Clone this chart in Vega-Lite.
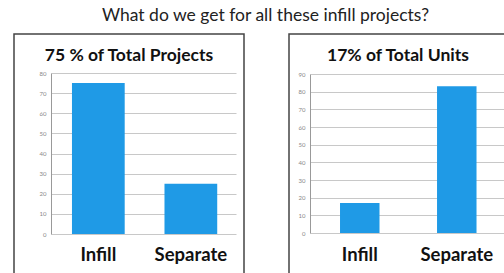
{
  "$schema": "https://vega.github.io/schema/vega-lite/v6.json",
  "padding": {"left": 13, "top": 6, "right": 0, "bottom": 0},
  "background": "white",
  "title": {"text": "What do we get for all these infill projects?", "font": "Lato", "fontSize": 17.5, "fontWeight": "normal", "color": "#222", "anchor": "middle", "offset": 9, "dx": 5},
  "spacing": 43,
  "config": {"view": {"stroke": "#444", "strokeWidth": 1.5}, "font": "Lato"},
  "hconcat": [
    {
      "width": 230,
      "height": 245,
      "title": {"text": "75 % of Total Projects", "fontSize": 17.5, "fontWeight": "bold", "color": "#111", "offset": -30, "anchor": "middle"},
      "data": {"values": [{"category": "Infill", "value": 75}, {"category": "Separate", "value": 25}]},
      "mark": {"type": "bar", "color": "#1F9AE6"},
      "encoding": {
        "x": {"field": "category", "type": "nominal", "sort": null,
          "scale": {"paddingInner": 0.43, "paddingOuter": 0.458, "align": 0.684},
          "axis": {"title": null, "labelAngle": 0, "labelFontSize": 18.5, "labelFontWeight": "bold", "labelColor": "#111", "ticks": false, "domain": false, "offset": -37, "labelPadding": 3}},
        "y": {"field": "value", "type": "quantitative",
          "scale": {"domain": [0, 80], "range": [200, 39], "nice": false},
          "axis": {"title": null, "values": [0, 10, 20, 30, 40, 50, 60, 70, 80], "grid": false, "ticks": true, "tickSize": -185, "tickColor": "#c8c8c8", "domainColor": "#999", "offset": -37, "labelFontSize": 6, "labelColor": "#888", "labelPadding": 190}}
      }
    },
    {
      "width": 218,
      "height": 245,
      "title": {"text": "17% of Total Units", "fontSize": 17.5, "fontWeight": "bold", "color": "#111", "offset": -30, "anchor": "middle"},
      "data": {"values": [{"category": "Infill", "value": 17}, {"category": "Separate", "value": 83}]},
      "mark": {"type": "bar", "color": "#1F9AE6"},
      "encoding": {
        "x": {"field": "category", "type": "nominal", "sort": null,
          "scale": {"paddingInner": 0.593, "paddingOuter": 0.42, "align": 0.626},
          "axis": {"title": null, "labelAngle": 0, "labelFontSize": 18.5, "labelFontWeight": "bold", "labelColor": "#111", "ticks": false, "domain": false, "offset": -37, "labelPadding": 3}},
        "y": {"field": "value", "type": "quantitative",
          "scale": {"domain": [0, 90], "range": [199, 40], "nice": false},
          "axis": {"title": null, "values": [0, 10, 20, 30, 40, 50, 60, 70, 80, 90], "grid": false, "ticks": true, "tickSize": -196, "tickColor": "#c8c8c8", "domainColor": "#999", "offset": -21, "labelFontSize": 6, "labelColor": "#888", "labelPadding": 201}}
      }
    }
  ]
}
